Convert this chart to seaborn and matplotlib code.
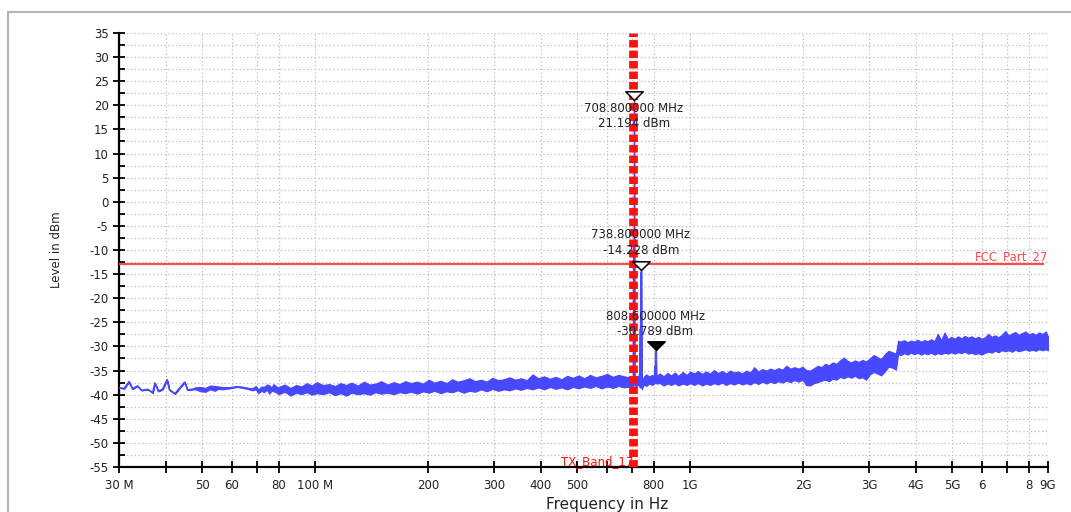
import numpy as np
import pandas as pd
import matplotlib
matplotlib.use("Agg")
import matplotlib.pyplot as plt
from matplotlib.path import Path
from matplotlib.patches import Rectangle
from matplotlib.ticker import FixedLocator, FixedFormatter, MultipleLocator, NullLocator
import seaborn as sns

# Spectrum trace: frequency (MHz), lower / upper envelope (dBm)
# 30 - 80 MHz, thin trace
freq_a = [30.0, 31.0, 31.9, 32.6, 33.6, 34.5, 35.8, 36.9, 37.4, 38.2,
          39.2, 40.3, 40.9, 42.3, 43.6, 44.9, 45.7, 47.0, 47.9, 49.5,
          51.0, 52.5, 54.0, 55.2, 56.5, 59.2, 62.0, 64.0, 66.0, 68.0,
          69.5, 70.5, 72.0, 73.0, 74.5, 75.4, 76.5, 77.5, 79.0]
lo_a = [-38.6, -38.7, -37.3, -38.8, -38.2, -39.1, -38.9, -39.6, -37.6, -39.3,
        -38.9, -36.9, -39.0, -39.8, -38.6, -37.4, -39.0, -38.9, -38.9, -39.3,
        -39.4, -38.9, -39.2, -38.8, -38.9, -38.7, -38.4, -38.6, -38.8, -39.1,
        -38.9, -39.7, -39.2, -39.5, -39.0, -39.8, -39.2, -39.3, -39.6]
hi_a = [-38.6, -38.7, -37.3, -38.8, -38.2, -39.1, -38.9, -39.6, -37.6, -39.3,
        -38.9, -36.9, -39.0, -39.8, -38.6, -37.4, -39.0, -38.9, -38.5, -38.4,
        -38.6, -38.1, -38.2, -38.3, -38.4, -38.5, -38.3, -38.4, -38.6, -38.7,
        -38.2, -38.9, -38.3, -38.4, -37.9, -38.0, -38.5, -37.8, -38.4]

# 80 - 700 MHz noise floor
freq_b = [80, 83, 86, 89, 92, 95, 98, 101, 105, 109,
          113, 117, 121, 125, 130, 135, 140, 145, 150, 156,
          162, 168, 174, 180, 187, 194, 201, 208, 216, 224,
          232, 240, 249, 258, 267, 277, 287, 297, 308, 319,
          330, 342, 354, 367, 380, 394, 408, 423, 438, 454,
          470, 487, 504, 522, 541, 560, 580, 601, 622, 644,
          667, 690, 700]
lo_b = [-39.9, -39.4, -40.2, -39.6, -39.9, -39.5, -40.0, -39.7, -39.9, -39.5,
        -40.1, -39.7, -40.2, -39.6, -39.9, -39.7, -40.0, -39.5, -39.8, -39.6,
        -39.9, -39.5, -39.7, -39.4, -39.8, -39.3, -39.6, -39.2, -39.7, -39.3,
        -39.5, -39.1, -39.6, -39.2, -39.4, -38.9, -39.3, -38.8, -39.2, -38.9,
        -39.1, -38.7, -39.0, -38.6, -38.9, -38.5, -38.9, -38.4, -38.8, -38.5,
        -38.9, -38.4, -38.7, -38.3, -38.6, -38.2, -38.7, -38.3, -38.6, -38.2,
        -38.5, -38.3, -38.4]
hi_b = [-38.4, -37.9, -38.6, -38.0, -38.3, -37.6, -38.1, -37.4, -38.0, -37.8,
        -38.2, -37.6, -38.0, -37.5, -38.1, -37.3, -37.9, -37.7, -37.2, -37.9,
        -37.4, -37.8, -37.2, -37.6, -37.3, -37.7, -36.9, -37.5, -37.1, -37.6,
        -36.8, -37.3, -37.0, -36.6, -37.2, -36.9, -37.3, -36.5, -37.0, -36.8,
        -36.4, -36.9, -36.6, -37.0, -35.8, -36.6, -36.2, -36.7, -36.3, -36.8,
        -36.1, -36.5, -36.0, -36.6, -35.9, -36.4, -36.1, -35.7, -36.3, -35.9,
        -36.2, -36.4, -36.8]

# 700 MHz - 1 GHz, carrier and spurs
freq_c = [706.0, 707.5, 710.0, 711.5, 720, 728, 734.0, 735.5, 742.0, 744.0,
          752, 764, 778, 792, 804.0, 805.5, 811.5, 813.5, 830, 850,
          870, 890, 910, 930, 955, 980, 1000]
lo_c = [-38.0, -38.0, -38.0, -38.1, -38.2, -37.9, -38.5, -38.5, -38.5, -38.8,
        -37.9, -38.2, -37.7, -38.0, -37.6, -37.5, -37.5, -37.7, -37.6, -38.1,
        -37.7, -38.0, -37.6, -38.1, -37.7, -38.0, -37.6]
hi_c = [-37.0, 21.194, 21.0, -36.9, -36.4, -36.0, -37.0, -14.5, -14.228, -37.5,
        -36.3, -35.8, -36.2, -35.9, -36.2, -30.9, -30.789, -36.1, -35.6, -36.2,
        -35.5, -36.0, -35.4, -36.1, -35.3, -35.9, -35.2]

# 1 - 2 GHz
freq_d = [1025, 1050, 1076, 1103, 1130, 1158, 1187, 1217, 1247, 1278,
          1310, 1343, 1377, 1411, 1446, 1482, 1519, 1557, 1596, 1636,
          1677, 1719, 1762, 1806, 1851, 1897, 1945, 1994]
lo_d = [-38.0, -37.6, -38.1, -37.7, -38.0, -37.6, -37.9, -37.5, -38.0, -37.6,
        -37.9, -37.5, -37.9, -37.6, -37.9, -37.4, -37.8, -37.3, -37.7, -37.3,
        -37.6, -37.2, -37.5, -37.1, -37.4, -37.0, -37.3, -36.9]
hi_d = [-35.6, -35.1, -35.7, -35.2, -35.6, -34.9, -35.5, -35.1, -35.6, -35.0,
        -35.4, -35.2, -35.6, -35.0, -35.4, -34.3, -35.2, -34.7, -35.0, -34.6,
        -34.9, -34.5, -34.8, -34.0, -34.6, -34.3, -34.6, -34.2]

# 2 - 3.6 GHz
freq_e = [2040, 2090, 2140, 2190, 2240, 2290, 2345, 2400, 2455, 2510,
          2570, 2630, 2690, 2750, 2815, 2880, 2945, 3015, 3085, 3155,
          3230, 3305, 3380, 3460, 3540]
lo_e = [-38.0, -38.1, -37.6, -37.4, -37.1, -36.9, -37.2, -36.7, -36.9, -36.3,
        -36.6, -36.2, -36.5, -36.1, -36.6, -36.4, -36.9, -35.8, -35.3, -35.6,
        -36.0, -35.2, -34.2, -34.4, -34.8]
hi_e = [-34.9, -35.0, -34.5, -34.0, -34.3, -33.6, -33.9, -33.3, -33.6, -32.9,
        -32.3, -33.0, -33.3, -32.9, -33.2, -32.8, -33.1, -32.5, -31.8, -32.2,
        -32.6, -31.6, -30.9, -31.2, -31.5]

# 3.6 - 9 GHz
freq_f = [3585, 3640, 3720, 3800, 3880, 3960, 4040, 4125, 4210, 4300,
          4390, 4480, 4575, 4670, 4770, 4870, 4970, 5075, 5180, 5290,
          5400, 5510, 5630, 5745, 5865, 5990, 6115, 6240, 6370, 6505,
          6640, 6780, 6920, 7065, 7215, 7365, 7520, 7680, 7840, 8005,
          8170, 8340, 8520, 8700, 8880, 9000]
lo_f = [-31.6, -31.8, -31.4, -31.7, -31.3, -31.6, -31.3, -31.7, -31.4, -31.6,
        -31.3, -31.7, -31.4, -31.6, -31.3, -31.5, -31.2, -31.5, -31.2, -31.4,
        -31.1, -31.5, -31.3, -31.6, -31.4, -31.7, -31.3, -31.1, -31.3, -30.9,
        -31.2, -30.8, -31.0, -30.8, -31.1, -30.7, -31.0, -30.8, -30.6, -30.9,
        -30.7, -30.9, -30.6, -30.8, -30.6, -30.8]
hi_f = [-28.8, -29.0, -28.7, -29.1, -28.8, -29.0, -28.6, -29.0, -28.7, -28.9,
        -28.5, -28.9, -27.4, -28.7, -27.1, -28.5, -28.0, -28.4, -27.9, -28.3,
        -27.8, -28.2, -27.9, -28.3, -28.0, -28.4, -28.1, -27.4, -28.0, -27.7,
        -28.1, -27.6, -26.8, -27.7, -27.3, -27.0, -27.6, -27.2, -26.9, -27.5,
        -27.2, -27.6, -27.1, -27.4, -26.9, -27.9]

limit_dbm = -13
limit_label = "FCC_Part_27"
band_mhz = 704
band_label = "TX_Band_17"

marker_freq = [708.8, 738.8, 808.6]
marker_level = [21.194, -14.228, -30.789]
marker_filled = [False, False, True]
marker_text = ["708.800000 MHz\n21.194 dBm", "738.800000 MHz\n-14.228 dBm", "808.600000 MHz\n-30.789 dBm"]
marker_text_dy = [-12, 20, 19]  # points, text below / above the marker

xtick_mhz = [30, 40, 50, 60, 70, 80, 100, 200, 300, 400, 500, 600, 700, 800,
             1000, 2000, 3000, 4000, 5000, 6000, 7000, 8000, 9000]
xtick_labels = ["30 M", "", "50", "60", "", "80", "100 M", "200", "300", "400", "500", "", "", "800",
                "1G", "2G", "3G", "4G", "5G", "6", "", "8", "9G"]

trace_color = "#4848ff"
limit_color = "#ff4a4a"
band_color = "#ff1010"

sns.set_theme(style="white")
plt.rcParams["font.family"] = ["DejaVu Sans"]
plt.rcParams["axes.unicode_minus"] = False

fig = plt.figure(figsize=(10.71, 5.12), dpi=100)
ax = fig.add_axes([0.1111, 0.0879, 0.8674, 0.8477])
ax.set_xscale("log")

# long form: two rows per frequency, band drawn as min/max around the mean
freq_all = freq_a + freq_b + freq_c + freq_d + freq_e + freq_f
lo_all = lo_a + lo_b + lo_c + lo_d + lo_e + lo_f
hi_all = hi_a + hi_b + hi_c + hi_d + hi_e + hi_f
df = pd.DataFrame({"freq": freq_all + freq_all, "level": lo_all + hi_all})
sns.lineplot(data=df, x="freq", y="level", ax=ax, color=trace_color, linewidth=1.2,
             errorbar=lambda v: (v.min(), v.max()),
             err_kws={"alpha": 1, "linewidth": 0.8, "edgecolor": trace_color}, zorder=3)

# limit line
ax.hlines(limit_dbm, xtick_mhz[0], 8800, color=limit_color, linewidth=1.6, zorder=4)
ax.text(9000, limit_dbm + 0.2, limit_label, color=limit_color, fontsize=8.5,
        ha="right", va="bottom", zorder=5)

# band edge
ax.axvline(band_mhz, color=band_color, linewidth=6.3, linestyle=(0, (0.85, 0.35)), zorder=5)
ax.text(band_mhz, -55.2, band_label, color=band_color, fontsize=8.5, ha="right", va="bottom", zorder=6)

# markers
tri = Path([(-1, 1), (1, 1), (0, 0), (-1, 1)], [Path.MOVETO, Path.LINETO, Path.LINETO, Path.CLOSEPOLY])
for f, lv, filled, txt, dy in zip(marker_freq, marker_level, marker_filled, marker_text, marker_text_dy):
    ax.plot([f], [lv], marker=tri, markersize=12.5, markerfacecolor="black" if filled else "white",
            markeredgecolor="black", markeredgewidth=1.1, linestyle="none", zorder=7)
    ax.annotate(txt, (f, lv), xytext=(0, dy), textcoords="offset points", ha="center", va="center",
                fontsize=8.5, color="#222222", linespacing=1.25, zorder=8)

ax.set_xlim(30, 9000)
ax.set_ylim(-55, 35)
ax.xaxis.set_major_locator(FixedLocator(xtick_mhz))
ax.xaxis.set_major_formatter(FixedFormatter(xtick_labels))
ax.xaxis.set_minor_locator(NullLocator())
ax.yaxis.set_major_locator(MultipleLocator(5))
ax.yaxis.set_minor_locator(MultipleLocator(2.5))

ax.grid(True, which="major", axis="x", color="#c4c4c4", linestyle=(0, (1.2, 1.8)), linewidth=0.9)
ax.grid(True, which="both", axis="y", color="#c4c4c4", linestyle=(0, (1.2, 1.8)), linewidth=0.9)
ax.set_axisbelow(True)

for side in ["top", "right"]:
    ax.spines[side].set_visible(False)
for side in ["left", "bottom"]:
    ax.spines[side].set_color("black")
    ax.spines[side].set_linewidth(1.6)

ax.tick_params(axis="both", which="major", direction="inout", length=8, width=1.3,
               color="black", labelsize=8.5, labelcolor="#222222", bottom=True, left=True)
ax.tick_params(axis="y", which="minor", direction="in", length=4.5, width=1.3, color="black", left=True)
ax.tick_params(axis="x", which="major", pad=5)

ax.set_xlabel("Frequency in Hz", fontsize=11, color="#222222")
ax.xaxis.set_label_coords(0.525, -0.068)
ax.set_ylabel("Level in dBm", fontsize=8.5, color="#222222")
ax.yaxis.set_label_coords(-0.06, 0.5)

# grey frame around the plot window
fig.patches.append(Rectangle((8 / 1071, -0.1), 1.2, 1.1 - 12 / 512, transform=fig.transFigure,
                             fill=False, edgecolor="#b4b4b4", linewidth=1.5))

fig.savefig("out.png", dpi=100)
